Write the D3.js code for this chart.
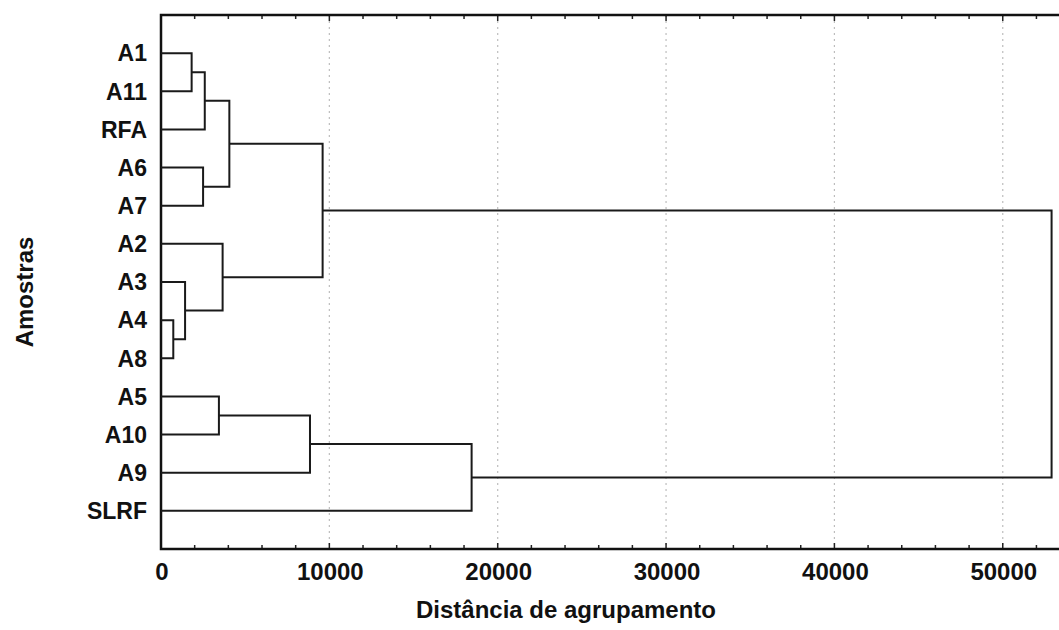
<!DOCTYPE html>
<html lang="pt">
<head>
<meta charset="utf-8">
<title>Dendrograma – Amostras</title>
<script src="https://cdn.jsdelivr.net/npm/d3@7"></script>
<style>
  body { margin: 0; background: #fff; }
  svg text { font-family: "Liberation Sans", Arial, sans-serif; font-weight: bold; fill: #111; }
</style>
</head>
<body>
<svg id="chart" width="1059" height="630"></svg>
<script>
// leaf order (top to bottom)
var leaves = ["A1", "A11", "RFA", "A6", "A7", "A2", "A3", "A4", "A8", "A5", "A10", "A9", "SLRF"];

// merges: id, left child, right child, linkage distance
var mergeIds   = ["c1", "c2", "c3", "c4", "c5", "c6", "c7", "c8", "c9", "c10", "c11", "c12"];
var mergeLeft  = ["A4", "A3", "A2", "A1", "c4", "A6", "c5", "c7", "A5", "c9", "c10", "c8"];
var mergeRight = ["A8", "c1", "c2", "A11", "RFA", "A7", "c6", "c3", "A10", "A9", "SLRF", "c11"];
var mergeDist  = [730, 1430, 3660, 1820, 2600, 2500, 4060, 9600, 3440, 8850, 18450, 52900];

var xTicks = [0, 10000, 20000, 30000, 40000, 50000];
var gridVals = [10000, 20000, 30000, 40000, 50000];

var svg = d3.select("#chart");
// note: "top" is taken by window.top, so use plot_* names
var plot_left = 161, plot_right = 1060, plot_top = 15, plot_bottom = 549;

var x = d3.scaleLinear().domain([0, 53400]).range([plot_left, plot_right]);
var y = d3.scalePoint().domain(leaves).range([plot_top, plot_bottom]).padding(1);

// node positions
var pos = {};
leaves.forEach(function (n) { pos[n] = { x: 0, y: y(n) }; });
mergeIds.forEach(function (id, i) {
  pos[id] = { x: mergeDist[i], y: (pos[mergeLeft[i]].y + pos[mergeRight[i]].y) / 2 };
});

// grid lines
svg.append("g").selectAll("line").data(gridVals).enter().append("line")
  .attr("x1", function (d) { return x(d); })
  .attr("x2", function (d) { return x(d); })
  .attr("y1", plot_top).attr("y2", plot_bottom)
  .style("stroke", "#bdbdbd").style("stroke-width", 1.2)
  .style("stroke-dasharray", "2,4");

// minor ticks top/bottom
var minor = d3.range(0, 53400, 2000);
var tk = svg.append("g");
tk.selectAll(".tb").data(minor).enter().append("line")
  .attr("x1", function (d) { return x(d); }).attr("x2", function (d) { return x(d); })
  .attr("y1", plot_bottom).attr("y2", function (d) { return plot_bottom - (d % 10000 === 0 ? 6 : 4); })
  .style("stroke", "#222").style("stroke-width", 1.5);
tk.selectAll(".tt").data(minor).enter().append("line")
  .attr("x1", function (d) { return x(d); }).attr("x2", function (d) { return x(d); })
  .attr("y1", plot_top).attr("y2", function (d) { return plot_top + (d % 10000 === 0 ? 6 : 4); })
  .style("stroke", "#222").style("stroke-width", 1.5);

// frame
svg.append("path")
  .attr("d", "M" + (plot_right + 5) + "," + plot_top + "H" + plot_left + "V" + plot_bottom + "H" + (plot_right + 5))
  .style("fill", "none").style("stroke", "#111").style("stroke-width", 2.5);

// dendrogram links
var links = svg.append("g").style("fill", "none").style("stroke", "#1a1a1a").style("stroke-width", 2);
mergeIds.forEach(function (id, i) {
  var a = pos[mergeLeft[i]], b = pos[mergeRight[i]], xm = x(mergeDist[i]);
  links.append("path")
    .attr("d", "M" + x(a.x) + "," + a.y + "H" + xm + "V" + b.y + "H" + x(b.x));
});

// leaf labels
svg.append("g").selectAll("text").data(leaves).enter().append("text")
  .attr("x", 147)
  .attr("y", function (d) { return y(d); })
  .attr("dy", "0.36em")
  .attr("text-anchor", "end")
  .style("font-size", "23px")
  .text(function (d) { return d; });

// x tick labels
svg.append("g").selectAll("text").data(xTicks).enter().append("text")
  .attr("x", function (d) { return x(d) + 1; })
  .attr("y", 580)
  .attr("text-anchor", "middle")
  .style("font-size", "24px")
  .text(function (d) { return d; });

// axis titles
svg.append("text")
  .attr("x", 566).attr("y", 618)
  .attr("text-anchor", "middle")
  .style("font-size", "24px")
  .text("Distância de agrupamento");

svg.append("text")
  .attr("transform", "translate(33,292) rotate(-90)")
  .attr("text-anchor", "middle")
  .style("font-size", "24px")
  .text("Amostras");
</script>
</body>
</html>
